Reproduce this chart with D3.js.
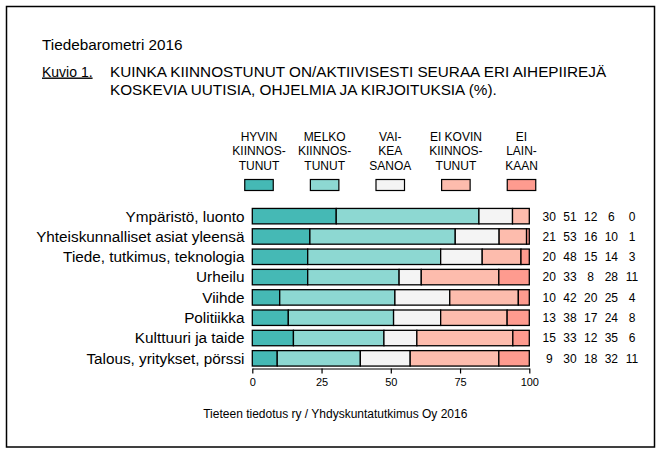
<!DOCTYPE html>
<html>
<head>
<meta charset="utf-8">
<script src="https://cdn.jsdelivr.net/npm/d3@7"></script>
<style>
  body { margin: 0; background: #fff; }
  text { font-family: 'Liberation Sans', Arial, sans-serif; fill: #000; }
</style>
</head>
<body>
<div id="chart"></div>
<script>
// ---
// Data
// ---
const categories = [
  'Ympäristö, luonto',
  'Yhteiskunnalliset asiat yleensä',
  'Tiede, tutkimus, teknologia',
  'Urheilu',
  'Viihde',
  'Politiikka',
  'Kulttuuri ja taide',
  'Talous, yritykset, pörssi'
]
const seriesKeys = ['hyvin', 'melko', 'vaikea', 'eiKovin', 'eiLainkaan']
const seriesLabels = [
  ['HYVIN', 'KIINNOS-', 'TUNUT'],
  ['MELKO', 'KIINNOS-', 'TUNUT'],
  ['VAI-', 'KEA', 'SANOA'],
  ['EI KOVIN', 'KIINNOS-', 'TUNUT'],
  ['EI', 'LAIN-', 'KAAN']
]
const hyvin = [30, 21, 20, 20, 10, 13, 15, 9]
const melko = [51, 53, 48, 33, 42, 38, 33, 30]
const vaikea = [12, 16, 15, 8, 20, 17, 12, 18]
const eiKovin = [6, 10, 14, 28, 25, 24, 35, 32]
const eiLainkaan = [0, 1, 3, 11, 4, 8, 6, 11]
const xTicks = [0, 25, 50, 75, 100]
const colors = ['#45b9b5', '#8dd8d2', '#f4f4f4', '#fdbcad', '#fe9b8f']

const seriesValues = [hyvin, melko, vaikea, eiKovin, eiLainkaan]
const rows = categories.map((c, i) => {
  const row = { category: c }
  seriesKeys.forEach((k, j) => { row[k] = seriesValues[j][i] })
  return row
})

// ---
// Container
// ---
const width = 662
const height = 454
const svg = d3.select('#chart').append('svg')
  .attr('width', width)
  .attr('height', height)

svg.append('rect')
  .attr('x', 6.5).attr('y', 6.5)
  .attr('width', 648).attr('height', 440.5)
  .attr('fill', '#fff')
  .attr('stroke', '#000')
  .attr('stroke-width', 1.5)

// Titles
svg.append('text')
  .attr('x', 42).attr('y', 49.5)
  .attr('font-size', 15.3)
  .text('Tiedebarometri 2016')

svg.append('text')
  .attr('x', 42).attr('y', 76.5)
  .attr('font-size', 14)
  .attr('text-decoration', 'underline')
  .text('Kuvio 1.')

svg.append('text')
  .attr('font-size', 15.3)
  .selectAll('tspan')
  .data(['KUINKA KIINNOSTUNUT ON/AKTIIVISESTI SEURAA ERI AIHEPIIREJÄ',
         'KOSKEVIA UUTISIA, OHJELMIA JA KIRJOITUKSIA (%).'])
  .enter()
    .append('tspan')
    .attr('x', 110)
    .attr('y', (d, i) => 76.5 + i * 18)
    .text(d => d)

// ---
// Scales
// ---
const xScale = d3.scaleLinear()
  .domain([0, 1])
  .range([252.3, 529.3])

const yScale = d3.scaleBand()
  .domain(categories)
  .range([206, 368.5])
  .paddingInner(0.24)
  .paddingOuter(0.12)

const legendScale = d3.scalePoint()
  .domain(seriesKeys)
  .range([259, 521.5])

const valueScale = d3.scalePoint()
  .domain(seriesKeys)
  .range([549.3, 632])

const color = d3.scaleOrdinal()
  .domain(seriesKeys)
  .range(colors)

// ---
// Legend
// ---
const legend = svg.append('g')
  .selectAll('g')
  .data(seriesKeys)
  .enter()
    .append('g')
    .attr('transform', d => `translate(${legendScale(d)}, 0)`)

legend.append('text')
  .attr('text-anchor', 'middle')
  .attr('font-size', 12)
  .selectAll('tspan')
  .data((d, i) => seriesLabels[i])
  .enter()
    .append('tspan')
    .attr('x', 0)
    .attr('y', (d, i) => 140.5 + i * 14.8)
    .text(d => d)

legend.append('rect')
  .attr('x', -14.25).attr('y', 179.5)
  .attr('width', 28.5).attr('height', 11)
  .attr('fill', d => color(d))
  .attr('stroke', '#000')
  .attr('stroke-width', 1.2)

// ---
// Bars
// ---
const stack = d3.stack()
  .keys(seriesKeys)
  .offset(d3.stackOffsetExpand)

svg.append('g')
  .selectAll('g')
  .data(stack(rows))
  .enter()
    .append('g')
    .attr('fill', d => color(d.key))
  .selectAll('rect')
    .data(d => d)
  .enter()
    .append('rect')
    .attr('x', d => xScale(d[0]))
    .attr('y', d => yScale(d.data.category))
    .attr('width', d => xScale(d[1]) - xScale(d[0]))
    .attr('height', yScale.bandwidth())
    .attr('stroke', '#000')
    .attr('stroke-width', 1.3)

// Category labels
svg.append('g')
  .selectAll('text')
  .data(categories)
  .enter()
    .append('text')
    .attr('x', 244.5)
    .attr('y', d => yScale(d) + yScale.bandwidth() / 2 + 5.4)
    .attr('text-anchor', 'end')
    .attr('font-size', 15.3)
    .text(d => d)

// Value columns
rows.forEach(row => {
  svg.append('g')
    .selectAll('text')
    .data(seriesKeys)
    .enter()
      .append('text')
      .attr('x', k => valueScale(k))
      .attr('y', yScale(row.category) + yScale.bandwidth() / 2 + 4.4)
      .attr('text-anchor', 'middle')
      .attr('font-size', 12)
      .text(k => row[k])
})

// ---
// Axis
// ---
const xAxis = d3.axisBottom(xScale)
  .tickValues(xTicks.map(t => t / 100))
  .tickFormat(d => Math.round(d * 100))
  .tickSize(5)
  .tickSizeOuter(0)
  .tickPadding(5)

const axisG = svg.append('g')
  .attr('transform', 'translate(0, 368.5)')
  .call(xAxis)

axisG.select('.domain').attr('stroke', '#000').attr('stroke-width', 1.2)
axisG.selectAll('.tick line').attr('stroke', '#000').attr('stroke-width', 1.2)
axisG.selectAll('.tick text')
  .attr('font-family', "'Liberation Sans', Arial, sans-serif")
  .attr('font-size', 11)
  .attr('fill', '#000')

// Source
svg.append('text')
  .attr('x', 335.3).attr('y', 417.7)
  .attr('text-anchor', 'middle')
  .attr('font-size', 12)
  .text('Tieteen tiedotus ry / Yhdyskuntatutkimus Oy 2016')
</script>
</body>
</html>
